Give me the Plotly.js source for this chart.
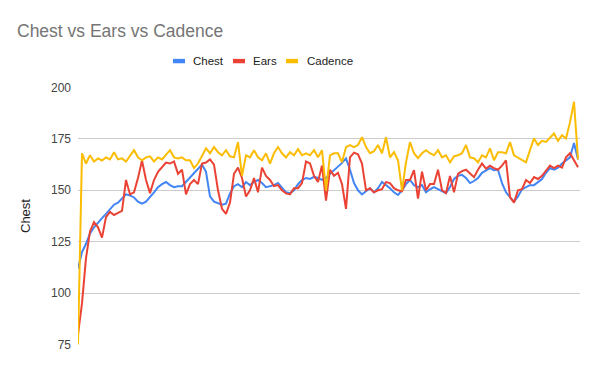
<!DOCTYPE html>
<html><head><meta charset="utf-8">
<script src="https://cdn.plot.ly/plotly-3.0.1.min.js"></script>
<style>html,body{margin:0;padding:0;background:#fff}#chart{width:600px;height:371px}</style>
</head><body><div id="chart"></div>
<script>
const seriesNames = ["Chest", "Ears", "Cadence"];
const seriesColors = ["#4285F4", "#EA4335", "#FBBC04"];
const yTicks = [75, 100, 125, 150, 175, 200];

const chest = [112,120,124,129,132,134.5,136.5,138.5,141,143,144,146,148,147.5,146.5,144.5,143.5,144.5,146.5,149,
151.5,153,154,152.5,151.5,152,152,154,156.5,158.5,160.5,162.5,159,147,144.5,143.8,143,143.5,148.5,152,
153,151.5,154,152.5,154,155,153.5,151.5,152,152.5,153.5,151,149,148.6,150,153,155,156,155.5,156.5,
156,155,156,158,160,161.5,163.3,165.5,160,153.5,150,148,149.5,151,149,151,154,152.5,151,149,
147.7,150,153,155,152.5,151.5,152.5,149,150.5,151.5,150.5,149.5,148.6,151.6,155.5,157,157.5,156,153.5,154.5,
156,158.5,159.5,160.8,159.8,160,153.5,149,146.7,144.5,147,150.5,151.5,152.5,152.5,154,155.5,158.5,160.8,160,
161,163,164.3,166,173,165];

const ears = [80,95,117,130,134.5,132,127,137,139.5,138,139,140,155,148,149,156,164.5,155,148.6,155,
159,161.5,163.5,163,164,158,160,148,153,155,153,163,163.5,165,162.5,150,141,138.5,144,158,
161,156,147,150,156,149,161,157,155,152,152.5,150,148.5,148,151,151,153.5,164,163,157,
154,162,145,160,157,158.5,153,141,166,168.3,167.5,163,150,151,149,150,150.5,154,153.5,151,
150,149.5,155,155,159.8,146,159,150,153,153,160,150,148.6,157,149,158,159.3,160,158,156.4,
160,163,160.5,162,160.8,160,162,164.6,146.7,144,150,150.5,155,153.5,156.4,155.5,157,159.8,162,160.8,
162,161,166,168,164.5,161.2];

const cadence = [75,168,163,167,164,165.5,164.5,166,165,168.5,165,165.5,164,167,169.5,166,164.6,166,166.5,164,
166,165,167,169.5,166,165.5,166,164.6,164.6,160.8,163,167,170.4,168,171,168.5,167,169.5,166.5,166,
173.4,157,167,166,169.5,166,164.6,168,163,168,171,168,166,168.5,167,170,167,168,167,169.5,
166,169.5,150,167,168,168,163.6,171,172,171,172,175.8,171,168,169,172,168,175.8,166,168.5,
164.6,150,163.6,173.4,168,165.6,168,169.5,168,167,169.5,166,167,163.6,166.5,167,168,172,166,165.6,
163.6,167,166,170.4,164.6,168.5,168.5,168,173.4,167,166,164.6,163.6,169.5,175.2,172,174,173.5,175.8,177.6,
174,176.8,175.2,183,193,165];

const sampleIndex = chest.map((_, i) => i);
const allSeries = [chest, ears, cadence];
const FONT = "Arial, 'Liberation Sans', sans-serif";

const traces = allSeries.map((vals, i) => ({
  type: "scatter", mode: "lines", name: seriesNames[i],
  x: sampleIndex, y: vals,
  line: {color: seriesColors[i], width: 2},
  showlegend: false, hoverinfo: "skip"
}));

// custom legend (swatch + label), positioned in paper coordinates
const legendSwatch = [[0.1892, 0.2131], [0.3088, 0.3327], [0.4143, 0.4382]];
const legendText = [0.2251, 0.3446, 0.4522];
const shapes = [], annotations = [];
seriesNames.forEach((n, i) => {
  shapes.push({type: "rect", xref: "paper", yref: "paper",
    x0: legendSwatch[i][0], x1: legendSwatch[i][1], y0: 1.092, y1: 1.109,
    fillcolor: seriesColors[i], line: {width: 0}});
  annotations.push({xref: "paper", yref: "paper", x: legendText[i], y: 1.1008,
    xanchor: "left", yanchor: "middle", showarrow: false, text: n,
    font: {family: FONT, size: 11.5, color: "#222222"}});
});

const layout = {
  width: 600, height: 371,
  margin: {l: 78, r: 20, t: 87, b: 26, pad: 0},
  paper_bgcolor: "#ffffff", plot_bgcolor: "#ffffff",
  font: {family: FONT, color: "#444444"},
  title: {text: "Chest vs Ears vs Cadence", x: 17/600, xref: "container", xanchor: "left",
    y: 1 - 31/371, yref: "container", yanchor: "middle",
    font: {family: FONT, size: 17.5, color: "#757575"}},
  xaxis: {range: [0, 125.5], showgrid: false, zeroline: false, showticklabels: false,
    showline: false, ticks: "", fixedrange: true},
  yaxis: {range: [74.8, 200.2], tickvals: yTicks, ticktext: yTicks.map(String),
    showgrid: true, gridcolor: "#cccccc", gridwidth: 1, zeroline: false, showline: false,
    ticks: "", ticklabelstandoff: 6, tickfont: {family: FONT, size: 12, color: "#444444"},
    title: {text: "Chest", font: {family: FONT, size: 13, color: "#222222"}, standoff: 17}},
  shapes: shapes, annotations: annotations,
  showlegend: false
};

Plotly.newPlot("chart", traces, layout, {displayModeBar: false, staticPlot: true});
</script></body></html>
